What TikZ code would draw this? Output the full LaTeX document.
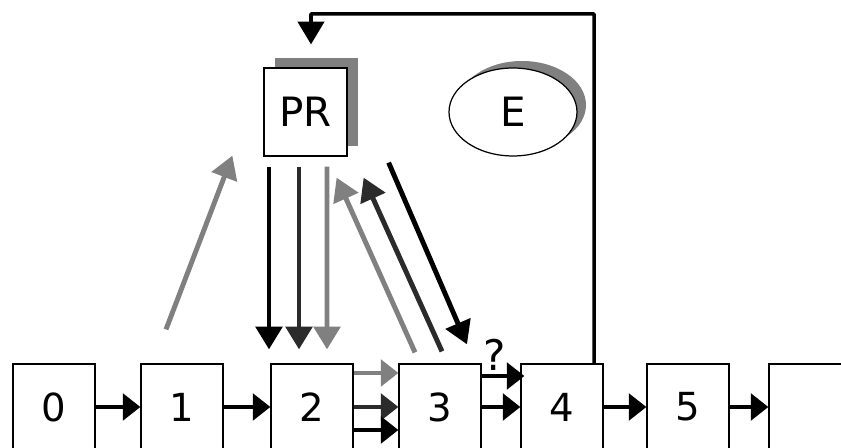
\documentclass[tikz,border=0pt]{standalone}
\usepackage{fontspec}
\setmainfont{DejaVu Sans}
\usetikzlibrary{calc, arrows.meta, shapes.geometric, shadows}
\definecolor{midgray}{HTML}{808080}
\definecolor{deepgray}{HTML}{2B2B2B}
\tikzset{
  cell/.style={draw, line width=0.7pt, minimum width=1.64cm, minimum height=1.72cm, inner sep=0pt, font=\fontsize{22}{26}\selectfont},
  link/.style={line width=2.8pt, -{Triangle[length=10pt,width=15pt]}},
  call/.style={line width=2.8pt, -{Triangle[length=13pt,width=15pt]}},
}
\begin{document}
\begin{tikzpicture}[x=0.02cm, y=-0.02cm]
  \useasboundingbox (0,0) rectangle (841,448);
  \clip (0,0) rectangle (841,448);
  % row of cells
  \node[cell] (b0) at (54,407) {0};
  \node[cell] (b1) at (182,407) {1};
  \node[cell] (b2) at (312,407) {2};
  \node[cell] (b3) at (440,407) {3};
  \node[cell] (b4) at (562,407) {4};
  \node[cell] (b5) at (688,407) {5};
  \node[cell] (b6) at (810,407) {};
  \coordinate (rowa) at (0,373);
  \coordinate (rowb) at (0,376);
  \coordinate (rowc) at (0,430);
  % PR and E
  \node[draw, fill=white, line width=0.7pt, minimum width=1.66cm, minimum height=1.76cm, inner sep=0pt,
        font=\fontsize{23}{27}\selectfont,
        drop shadow={shadow xshift=0.22cm, shadow yshift=0.2cm, fill=midgray, opacity=1}] (pr) at (305.5,112) {PR};
  \node[ellipse, draw, fill=white, line width=0.7pt, minimum width=2.56cm, minimum height=1.76cm, inner sep=0pt,
        font=\fontsize{23}{27}\selectfont,
        drop shadow={shadow xshift=0.18cm, shadow yshift=0.14cm, fill=midgray, opacity=1}] (env) at (513,112) {E};
  \node[font=\fontsize{24}{28}\selectfont] (q) at (495,355) {?};
  % links between cells
  \draw[link] (b0.east) -- (b1.west);
  \draw[link] (b1.east) -- (b2.west);
  \draw[link, midgray] (b2.east |- rowa) -- (b3.west |- rowa);
  \draw[link, deepgray] (b2.east) -- (b3.west);
  \draw[link] (b2.east |- rowc) -- (b3.west |- rowc);
  \draw[link] (b3.east |- rowb) -- ($(b4.west |- rowb)+(4,0)$);
  \draw[link] (b3.east) -- (b4.west);
  \draw[link] (b4.east) -- (b5.west);
  \draw[link] (b5.east) -- (b6.west);
  % calls to and from PR
  \draw[call, midgray] ($(b1.north)+(-16,-34)$) -- ($(pr.south west)+(-31,-1)$);
  \draw[call] ($(pr.south)+(-36.5,10)$) -- ($(b2.north)+(-43,-14)$);
  \draw[call, deepgray] ($(pr.south)+(-6.5,10)$) -- ($(b2.north)+(-13,-14)$);
  \draw[call, midgray] ($(pr.south)+(21.5,10)$) -- ($(b2.north)+(15,-14)$);
  \draw[call, midgray] ($(b3.north)+(-25,-11)$) -- ($(pr.south east)+(-11,21)$);
  \draw[call, deepgray] ($(b3.north)+(2,-12)$) -- ($(pr.south east)+(16,21)$);
  \draw[call] ($(pr.south east)+(41,6)$) -- ($(b3.north)+(27,-19)$);
  % feedback to PR
  \coordinate (fbtop) at (311,14);
  \draw[line width=2pt, line join=round, -{Triangle[length=13pt,width=15pt]}]
    ($(b4.north)+(32,0)$) |- (fbtop) -- ($(pr.north)+(5.5,-23)$);
\end{tikzpicture}
\end{document}
